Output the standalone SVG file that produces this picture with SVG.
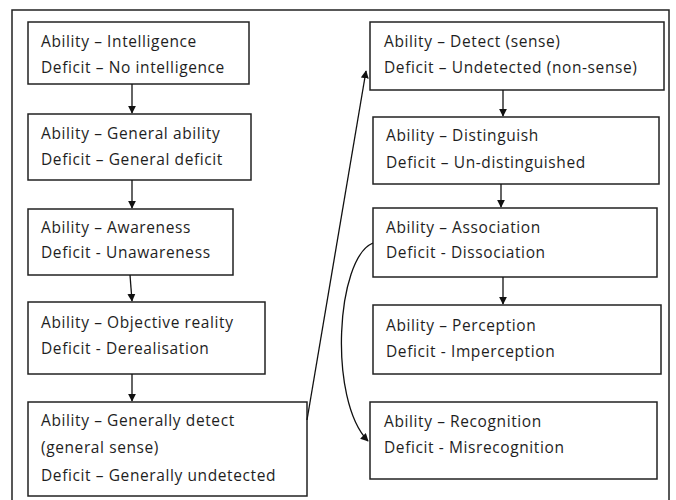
<svg xmlns="http://www.w3.org/2000/svg" width="676" height="500" viewBox="0 0 676 500">
  <style>
    .box rect { fill: #ffffff; stroke: #222222; stroke-width: 1.5; }
    .box text { font-family: "Open Sans", "Liberation Sans", sans-serif; font-size: 15.5px; letter-spacing: 0.6px; fill: #1e1e1e; }
    .conn path, .conn line { fill: none; stroke: #111111; stroke-width: 1.3; }
  </style>
  <defs>
    <marker id="arrow" viewBox="0 0 10 10" refX="9" refY="5" markerWidth="8" markerHeight="8" markerUnits="userSpaceOnUse" orient="auto">
      <path d="M0,0 L10,5 L0,10 Z" fill="#111111"/>
    </marker>
  </defs>

  <rect x="12" y="10" width="657" height="500" fill="#ffffff" stroke="#222222" stroke-width="1.5"/>

  <!-- left column -->
  <g id="intelligence" class="box">
    <rect x="28" y="22" width="221" height="62"/>
    <text x="41" y="47">Ability – Intelligence</text>
    <text x="41" y="73">Deficit – No intelligence</text>
  </g>
  <g id="general-ability" class="box">
    <rect x="28" y="114" width="223" height="66"/>
    <text x="41" y="139">Ability – General ability</text>
    <text x="41" y="165">Deficit – General deficit</text>
  </g>
  <g id="awareness" class="box">
    <rect x="28" y="209" width="205" height="66"/>
    <text x="41" y="233">Ability – Awareness</text>
    <text x="41" y="258">Deficit - Unawareness</text>
  </g>
  <g id="objective-reality" class="box">
    <rect x="28" y="302" width="237" height="72"/>
    <text x="41" y="328">Ability – Objective reality</text>
    <text x="41" y="354">Deficit - Derealisation</text>
  </g>
  <g id="generally-detect" class="box">
    <rect x="28" y="402" width="279" height="94"/>
    <text x="41" y="426">Ability – Generally detect</text>
    <text x="41" y="453">(general sense)</text>
    <text x="41" y="481">Deficit – Generally undetected</text>
  </g>

  <!-- right column -->
  <g id="detect" class="box">
    <rect x="370" y="22" width="294" height="68"/>
    <text x="384" y="47">Ability – Detect (sense)</text>
    <text x="384" y="73">Deficit – Undetected (non-sense)</text>
  </g>
  <g id="distinguish" class="box">
    <rect x="373" y="117" width="286" height="67"/>
    <text x="386" y="141">Ability – Distinguish</text>
    <text x="386" y="168">Deficit – Un-distinguished</text>
  </g>
  <g id="association" class="box">
    <rect x="373" y="208" width="284" height="69"/>
    <text x="386" y="233">Ability – Association</text>
    <text x="386" y="258">Deficit - Dissociation</text>
  </g>
  <g id="perception" class="box">
    <rect x="373" y="305" width="288" height="69"/>
    <text x="386" y="331">Ability – Perception</text>
    <text x="386" y="357">Deficit - Imperception</text>
  </g>
  <g id="recognition" class="box">
    <rect x="370" y="402" width="287" height="77"/>
    <text x="384" y="427">Ability – Recognition</text>
    <text x="384" y="453">Deficit - Misrecognition</text>
  </g>

  <g id="connectors" class="conn">
    <line x1="132" y1="84" x2="132" y2="113" marker-end="url(#arrow)"/>
    <line x1="132" y1="180" x2="132" y2="208" marker-end="url(#arrow)"/>
    <line x1="130" y1="275" x2="132" y2="301" marker-end="url(#arrow)"/>
    <line x1="132" y1="374" x2="132" y2="401" marker-end="url(#arrow)"/>
    <line x1="307" y1="420" x2="366" y2="71" marker-end="url(#arrow)"/>
    <line x1="503" y1="90" x2="503" y2="116" marker-end="url(#arrow)"/>
    <line x1="501" y1="184" x2="501" y2="207" marker-end="url(#arrow)"/>
    <line x1="503" y1="277" x2="503" y2="304" marker-end="url(#arrow)"/>
    <path d="M373,243 C336,258 328,400 368,441" marker-end="url(#arrow)"/>
  </g>
</svg>
